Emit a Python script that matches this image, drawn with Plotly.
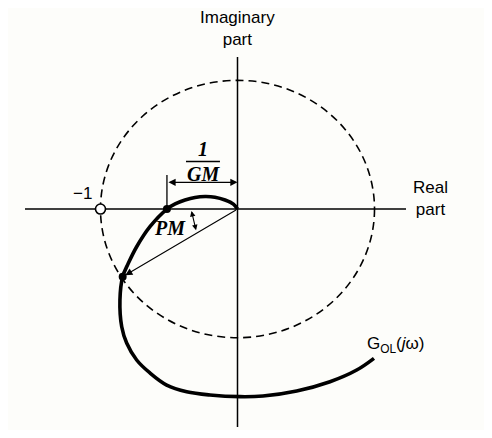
import plotly.graph_objects as go

# Nyquist curve G_OL(jw) (real, imaginary), unit circle radius = 1
curve_re = [0.0, -0.03, -0.091, -0.165, -0.237, -0.31, -0.383, -0.455, -0.515,
            -0.639, -0.736, -0.797, -0.838,
            -0.858, -0.845, -0.809, -0.736, -0.639, -0.517, -0.371, -0.201, 0.018,
            0.186, 0.432, 0.675, 0.870, 0.996]
curve_im = [0.0, 0.038, 0.07, 0.092, 0.097, 0.09, 0.07, 0.04, 0.0,
            -0.137, -0.293, -0.422, -0.526,
            -0.707, -0.915, -1.041, -1.173, -1.274, -1.368, -1.420, -1.445, -1.458,
            -1.453, -1.414, -1.342, -1.251, -1.160]

gm_point = (-0.515, 0.0)       # crossing of negative real axis -> 1/GM
pm_point = (-0.838, -0.526)    # crossing of unit circle -> PM
critical_point = (-1.0, 0.0)

real_axis = (-1.551, 1.230)
imag_axis = (-1.694, 1.181)

XR = [-1.675, 1.799]
YR = [-1.717, 1.562]

fig = go.Figure()

# unit circle (dashed)
fig.add_shape(type="circle", x0=-1, x1=1, y0=-1, y1=1, xref="x", yref="y",
              line=dict(color="black", width=1.6, dash="8px,5px"), layer="below")
# axes
fig.add_shape(type="line", x0=real_axis[0], x1=real_axis[1], y0=0, y1=0,
              line=dict(color="black", width=1.5), layer="below")
fig.add_shape(type="line", x0=0, x1=0, y0=imag_axis[0], y1=imag_axis[1],
              line=dict(color="black", width=1.5), layer="below")
# tick for 1/GM
fig.add_shape(type="line", x0=gm_point[0], x1=gm_point[0], y0=0, y1=0.264,
              line=dict(color="black", width=1.3))

# Nyquist curve
fig.add_trace(go.Scatter(x=curve_re, y=curve_im, mode="lines",
                         line=dict(color="black", width=3.6, shape="spline", smoothing=1.0),
                         hoverinfo="skip", showlegend=False))

# points
fig.add_trace(go.Scatter(x=[gm_point[0], pm_point[0]], y=[gm_point[1], pm_point[1]],
                         mode="markers", marker=dict(color="black", size=8),
                         showlegend=False, hoverinfo="skip"))
fig.add_trace(go.Scatter(x=[critical_point[0]], y=[critical_point[1]], mode="markers",
                         marker=dict(color="white", size=10, line=dict(color="black", width=1.6)),
                         showlegend=False, hoverinfo="skip"))

# radial arrow to PM point
fig.add_annotation(x=pm_point[0], y=pm_point[1], ax=0, ay=0, axref="x", ayref="y",
                   xref="x", yref="y", text="", showarrow=True, arrowhead=2,
                   arrowsize=1.3, arrowwidth=1.1, arrowcolor="black", standoff=3)
# 1/GM double arrow
fig.add_annotation(x=0, y=0.2075, ax=gm_point[0], ay=0.2075, axref="x", ayref="y",
                   xref="x", yref="y", text="", showarrow=True, arrowhead=2,
                   arrowside="end+start", arrowsize=1.2, arrowwidth=1.2, arrowcolor="black")
# PM angle arrow
fig.add_annotation(x=-0.336, y=-0.015, ax=-0.30, ay=-0.176, axref="x", ayref="y",
                   xref="x", yref="y", text="", showarrow=True, arrowhead=2,
                   arrowside="end+start", arrowsize=1.0, arrowwidth=1.1, arrowcolor="black")

sans = "Liberation Sans, Arial, sans-serif"
serif = "Liberation Serif, Times New Roman, serif"

def txt(x, y, s, size, family, xanchor="center", yanchor="middle"):
    fig.add_annotation(x=x, y=y, xref="x", yref="y", text=s, showarrow=False,
                       font=dict(size=size, family=family, color="black"),
                       xanchor=xanchor, yanchor=yanchor, borderpad=0)

frac_y = 0.37
txt(0.0, 1.40, "Imaginary<br>part", 17, sans)
txt(1.27, 0.085, "Real<br>part", 17, sans, xanchor="left")
txt(-1.13, 0.117, "−1", 17, sans)
txt(-0.25, frac_y + 0.006, "<b><i>1</i></b>", 20, serif, yanchor="bottom")
txt(-0.25, frac_y - 0.004, "<b><i>GM</i></b>", 20, serif, yanchor="top")
fig.add_shape(type="line", x0=-0.376, x1=-0.128, y0=frac_y, y1=frac_y,
              line=dict(color="black", width=1.5))
txt(-0.49, -0.148, "<b><i>PM</i></b>", 20, serif)
txt(0.94, -1.056, "G<sub>OL</sub>(<i>j</i>ω)", 17, sans, xanchor="left")

fig.update_layout(width=476, height=422, margin=dict(l=0, r=0, t=0, b=0),
                  paper_bgcolor="#fdfdfa", plot_bgcolor="#fdfdfa", showlegend=False,
                  xaxis=dict(range=XR, visible=False, fixedrange=True),
                  yaxis=dict(range=YR, visible=False, fixedrange=True))

fig.write_html("out.html")
